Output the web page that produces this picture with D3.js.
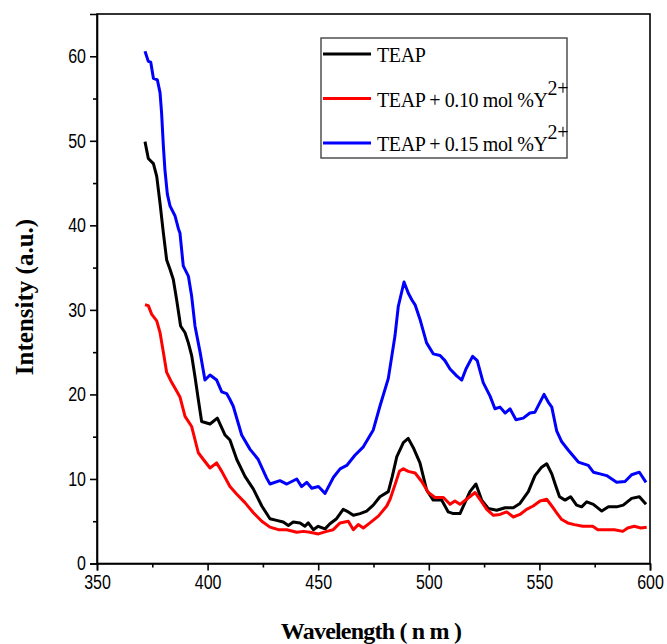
<!DOCTYPE html>
<html>
<head>
<meta charset="utf-8">
<script src="https://cdn.jsdelivr.net/npm/d3@7"></script>
<style>
    html, body { margin: 0; padding: 0; background: #fff; }
    svg { display: block; }
</style>
</head>
<body>
<svg width="667" height="644"></svg>
<script>
// emission spectra
var teapNm = [371.7, 373.2, 375.5, 377, 378.5, 380, 381.5, 383, 384.5, 386, 387.8, 389.8, 391.3, 392.8, 394.3, 395.8, 397.3,
    401.1, 404.4, 407.9, 410.1, 413.2, 416.9, 420.7, 424.5, 428.2, 431.2, 434.2, 436.5, 438.7, 441.8, 444, 445.5, 447.8,
    450, 453.1, 455.3, 458.3, 461.3, 463.6, 465.9, 468.9, 471.9, 474.9, 477.9, 481.7, 483.5, 485.5, 488.5, 490.7, 493,
    496, 499, 502, 505.8, 508.8, 511.1, 514.1, 518.6, 521.3, 523.9, 526.9, 530.7, 534.5, 538.2, 541.2, 545, 548, 551,
    553.3, 555.6, 557.1, 559.1, 561.6, 564.1, 566.8, 569.1, 571.4, 574.4, 578.2, 581.2, 584.9, 587.9, 591.7, 595.2, 598.2];
var teapVal = [49.9, 47.9, 47.3, 45.8, 42.6, 39.1, 35.9, 34.8, 33.6, 31.2, 28.1, 27.3, 26.1, 24.6, 22.1, 19.4, 16.8,
    16.5, 17.2, 15.2, 14.6, 12.3, 10.3, 8.8, 6.8, 5.3, 5.1, 4.9, 4.5, 4.9, 4.8, 4.4, 4.8, 4.0,
    4.4, 4.1, 4.7, 5.3, 6.4, 6.1, 5.7, 5.9, 6.2, 6.9, 7.9, 8.5, 10.3, 12.6, 14.3, 14.8, 13.7,
    11.9, 8.7, 7.5, 7.5, 6.1, 5.9, 5.9, 8.5, 9.4, 7.5, 6.5, 6.3, 6.6, 6.6, 7.1, 8.5, 10.4, 11.4,
    11.8, 10.6, 9.4, 7.9, 7.5, 7.9, 6.9, 6.7, 7.3, 7.0, 6.2, 6.7, 6.7, 6.9, 7.7, 7.9, 7.0];

var y010Nm = [371.7, 373.2, 374.7, 377, 378.5, 380, 381.5, 383.8, 386, 387.5, 389.8, 392.8, 395.8, 398.1, 401.1, 404.1,
    406.4, 410.1, 413.2, 416.9, 420.7, 424.5, 428.2, 432, 435.8, 440.3, 443.3, 446.3, 450.1, 453.8, 456.8, 459.9, 463.6,
    465.9, 468.1, 470.4, 473.4, 477.2, 481, 482.5, 484.7, 486.7, 488.5, 490.7, 493.8, 496.8, 499.8, 502.8, 506.6, 509.6,
    511.8, 514.1, 517.1, 520.9, 523.1, 526.2, 529.2, 532.2, 535.2, 538.2, 541.2, 544.2, 547.2, 550.3, 553.3, 555.6,
    557.8, 560.1, 562.8, 565.8, 569.6, 574.1, 576.4, 580.9, 583.9, 587.7, 589.9, 592.9, 595.9, 598.5];
var y010Val = [30.6, 30.5, 29.5, 28.7, 27.3, 25.0, 22.6, 21.4, 20.4, 19.7, 17.4, 16.2, 13.1, 12.3, 11.3, 11.9,
    10.9, 9.1, 8.2, 7.2, 6.0, 5.0, 4.3, 4.0, 4.0, 3.7, 3.8, 3.7, 3.5, 3.8, 4.0, 4.8, 5.0,
    4.0, 4.6, 4.2, 4.8, 5.6, 6.8, 7.6, 9.3, 10.9, 11.2, 10.9, 10.7, 9.7, 8.4, 7.8, 7.8, 7.0,
    7.4, 7.0, 7.6, 8.4, 7.6, 6.4, 5.7, 5.8, 6.1, 5.5, 5.8, 6.4, 6.8, 7.4, 7.6, 6.8,
    6.0, 5.2, 4.8, 4.6, 4.4, 4.4, 4.0, 4.0, 4.0, 3.8, 4.2, 4.4, 4.2, 4.3];

var y015Nm = [371.7, 373.2, 374.3, 375.5, 377.3, 378.5, 379.2, 380, 380.7, 381.8, 383, 385.3, 386.8, 387.5, 389, 391.3,
    392.8, 394.3, 396.6, 398.8, 401.1, 404.1, 406.4, 408.6, 410.1, 411.6, 415.4, 419.2, 422.9, 426.7, 428.2, 432.7,
    435.8, 440.3, 442.5, 444.8, 447.1, 450.1, 453.1, 456.9, 459.9, 462.9, 466.6, 470.4, 474.9, 477.9, 481.7, 484.7,
    486.2, 488.8, 490.7, 492.3, 493.8, 496, 499, 502, 505.1, 507.3, 509.6, 512.6, 514.9, 516.8, 519.8, 521.9, 524.6,
    527.7, 529.9, 532.2, 534.5, 536.7, 539.4, 542.7, 545.7, 548, 552.1, 554, 555.6, 557.8, 560.1, 563.1, 567.6,
    572.1, 574.4, 577.4, 580.4, 584.9, 588.7, 591.7, 595.2, 598.2];
var y015Val = [60.6, 59.4, 59.3, 57.4, 57.2, 55.7, 53.3, 49.4, 46.6, 43.7, 42.3, 41.1, 39.6, 39.1, 35.2, 34.0,
    31.6, 28.1, 25.0, 21.7, 22.3, 21.7, 20.3, 20.1, 19.4, 18.6, 15.2, 13.5, 12.3, 10.1, 9.4, 9.8,
    9.4, 10.0, 9.1, 9.6, 8.9, 9.1, 8.3, 10.2, 11.2, 11.6, 12.8, 13.8, 15.8, 18.6, 21.9, 26.9,
    30.4, 33.3, 32.0, 31.2, 30.6, 28.9, 26.1, 24.8, 24.6, 24.0, 23.0, 22.2, 21.7, 23.0, 24.5, 24.0, 21.4,
    19.8, 18.3, 18.5, 17.8, 18.3, 17.0, 17.2, 17.8, 17.9, 20.0, 19.1, 18.5, 15.7, 14.4, 13.4, 12.0,
    11.6, 10.8, 10.6, 10.4, 9.6, 9.7, 10.5, 10.8, 9.6];

var seriesNames = ["TEAP", "TEAP + 0.10 mol %Y", "TEAP + 0.15 mol %Y"];
var seriesColors = ["#000000", "#ff0000", "#0000ff"];
var xTicks = [350, 400, 450, 500, 550, 600];
var yTicks = [0, 10, 20, 30, 40, 50, 60];

(function () {

    var svg = d3.select("svg");
    var plotLeft = 97, plotRight = 650, plotTop = 14, plotBottom = 563.5;

    var x = d3.scaleLinear().domain([350, 600]).range([plotLeft, plotRight]);
    var y = d3.scaleLinear().domain([0, 65]).range([plotBottom, plotTop]);

    var series = [
        {name: seriesNames[0], color: seriesColors[0], nm: teapNm, val: teapVal},
        {name: seriesNames[1], color: seriesColors[1], nm: y010Nm, val: y010Val},
        {name: seriesNames[2], color: seriesColors[2], nm: y015Nm, val: y015Val}
    ];

    // frame
    svg.append("rect")
        .attr("x", plotLeft).attr("y", plotTop)
        .attr("width", plotRight - plotLeft).attr("height", plotBottom - plotTop)
        .attr("fill", "none").attr("stroke", "#000").attr("stroke-width", 1.6);

    // minor ticks
    svg.append("g")
        .attr("transform", "translate(0," + plotBottom + ")")
        .call(d3.axisBottom(x).tickValues(d3.range(375, 600, 50)).tickSize(4).tickFormat(""))
        .call(g => g.select(".domain").remove());
    svg.append("g")
        .attr("transform", "translate(" + plotLeft + ",0)")
        .call(d3.axisLeft(y).tickValues(d3.range(5, 65, 10)).tickSize(4).tickFormat(""))
        .call(g => g.select(".domain").remove());

    var xAxis = svg.append("g")
        .attr("transform", "translate(0," + plotBottom + ")")
        .call(d3.axisBottom(x).tickValues(xTicks).tickSize(7).tickPadding(4));
    var yAxis = svg.append("g")
        .attr("transform", "translate(" + plotLeft + ",0)")
        .call(d3.axisLeft(y).tickValues(yTicks).tickSize(7).tickPadding(3));

    svg.selectAll(".tick line").attr("stroke", "#000").attr("stroke-width", 1.6);
    svg.selectAll(".domain").attr("stroke", "#000").attr("stroke-width", 1.6);

    [xAxis, yAxis].forEach(function (ax) {
        ax.selectAll("text")
            .attr("font-family", "'Liberation Sans', Arial, sans-serif")
            .attr("font-size", 20)
            .attr("fill", "#000");
    });
    xAxis.selectAll("text").attr("transform", "scale(0.8,1)");
    yAxis.selectAll("text")
        .attr("x", -11 / 0.8)
        .attr("transform", "scale(0.8,1)");

    // curves
    var line = d3.line()
        .x(function (d) { return x(d[0]); })
        .y(function (d) { return y(d[1]); });

    svg.selectAll(".curve")
        .data(series)
        .enter().append("path")
        .attr("class", "curve")
        .attr("fill", "none")
        .attr("stroke", function (d) { return d.color; })
        .attr("stroke-width", 3)
        .attr("stroke-linejoin", "round")
        .attr("d", function (d) { return line(d3.zip(d.nm, d.val)); });

    // legend
    var legend = svg.append("g");
    legend.append("rect")
        .attr("x", 321).attr("y", 38)
        .attr("width", 246).attr("height", 120)
        .attr("fill", "#fff").attr("stroke", "#444").attr("stroke-width", 1.4);

    var item = legend.selectAll(".item")
        .data(series)
        .enter().append("g")
        .attr("class", "item")
        .attr("transform", function (d, i) { return "translate(0," + (54 + i * 44.5) + ")"; });

    item.append("line")
        .attr("x1", 323).attr("x2", 371)
        .attr("stroke", function (d) { return d.color; })
        .attr("stroke-width", 3);

    var label = item.append("text")
        .attr("x", 377).attr("y", 8)
        .attr("font-family", "'Liberation Serif', 'Times New Roman', serif")
        .attr("font-size", 20)
        .attr("letter-spacing", -0.4)
        .attr("fill", "#000")
        .text(function (d) { return d.name; });
    label.filter(function (d, i) { return i > 0; })
        .append("tspan")
        .attr("dy", -12)
        .attr("font-size", 20)
        .text("2+");

    // axis titles
    svg.append("text")
        .attr("x", 371).attr("y", 639)
        .attr("text-anchor", "middle")
        .attr("font-family", "'Liberation Serif', 'Times New Roman', serif")
        .attr("font-weight", "bold")
        .attr("font-size", 24)
        .attr("letter-spacing", -0.8)
        .attr("fill", "#000")
        .text("Wavelength ( n m )");

    svg.append("text")
        .attr("transform", "translate(33,297) rotate(-90)")
        .attr("text-anchor", "middle")
        .attr("font-family", "'Liberation Serif', 'Times New Roman', serif")
        .attr("font-weight", "bold")
        .attr("font-size", 25)
        .attr("fill", "#000")
        .text("Intensity (a.u.)");

})();
</script>
</body>
</html>
